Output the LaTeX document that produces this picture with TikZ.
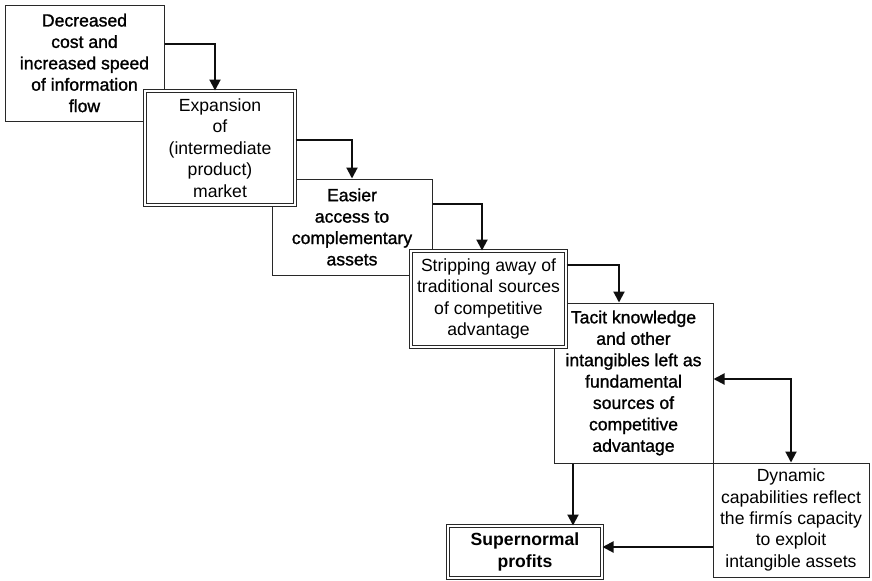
\documentclass[tikz,border=0pt]{standalone}
\usepackage{fontspec}
\setmainfont{Liberation Sans}
\newfontfamily\smearfont[FakeBold=1.2]{Liberation Sans}
\usepackage{tikz}
\usetikzlibrary{arrows.meta, positioning, calc}
\definecolor{boxline}{RGB}{40,40,40}
\definecolor{flowline}{RGB}{15,15,15}
\tikzset{
  stage/.style={rectangle, draw=boxline, fill=white, line width=0.5pt,
    align=center, inner sep=1pt, font=\fontsize{8.8}{10.7}\selectfont},
  heavy/.style={font=\fontsize{8.8}{10.7}\selectfont\smearfont},
  boldest/.style={font=\fontsize{8.8}{10.7}\selectfont\bfseries},
  framed/.style={double=white, double distance=1pt},
  flow/.style={-{Triangle[length=5.5pt, width=5.5pt]}, line width=1pt, color=flowline},
  twoway/.style={flow, {Triangle[length=5.5pt, width=5.5pt]}-{Triangle[length=5.5pt, width=5.5pt]}}
}

\begin{document}
\begin{tikzpicture}[x=0.5pt, y=-0.5pt]
  \useasboundingbox (0,0) rectangle (872,580);
  % boxes, back to front
  \node[stage, heavy, minimum width=79.5pt, minimum height=58pt] (dec) at (84.5,63)
    {Decreased\\cost and\\increased speed\\of information\\flow};
  \node[stage, heavy, minimum width=80pt, minimum height=48pt] (eas) at (352,227)
    {Easier\\access to\\complementary\\assets};
  \node[stage, framed, minimum width=75pt, minimum height=57pt] (exp) at (220,148)
    {Expansion\\of\\(intermediate\\product)\\market};
  \node[stage, heavy, minimum width=79.5pt, minimum height=80pt] (tac) at (633.5,383)
    {Tacit knowledge\\and other\\intangibles left as\\fundamental\\sources of\\competitive\\advantage};
  \node[stage, framed, minimum width=77.5pt, minimum height=48pt] (str) at (488.5,299)
    {Stripping away of\\traditional sources\\of competitive\\advantage};
  \node[stage, minimum width=78pt, minimum height=57pt] (dyn) at (791,520)
    {Dynamic\\capabilities reflect\\the firmís capacity\\to exploit\\intangible assets};
  \node[stage, framed, boldest, minimum width=77pt, minimum height=26pt] (sup) at (525,552)
    {Supernormal\\profits};

  % connectors
  \draw[flow] ([yshift=9.5pt]dec.east) -| ([xshift=-2.5pt]exp.north);
  \draw[flow] ([yshift=4pt]exp.east) -| (eas.north);
  \draw[flow] ([yshift=11.5pt]eas.east) -| ([xshift=-3.25pt]str.north);
  \draw[flow] ([yshift=17pt]str.east) -| ([xshift=-7.25pt]tac.north);
  \draw[flow] ([xshift=-30.25pt]tac.south) -- ([xshift=-30.25pt]tac.south |- sup.north);
  \draw[twoway] ([yshift=2pt]tac.east) -| (dyn.north);
  \draw[flow] ([yshift=-13.5pt]dyn.west) -- ([yshift=-13.5pt]dyn.west -| sup.east);
\end{tikzpicture}
\end{document}
